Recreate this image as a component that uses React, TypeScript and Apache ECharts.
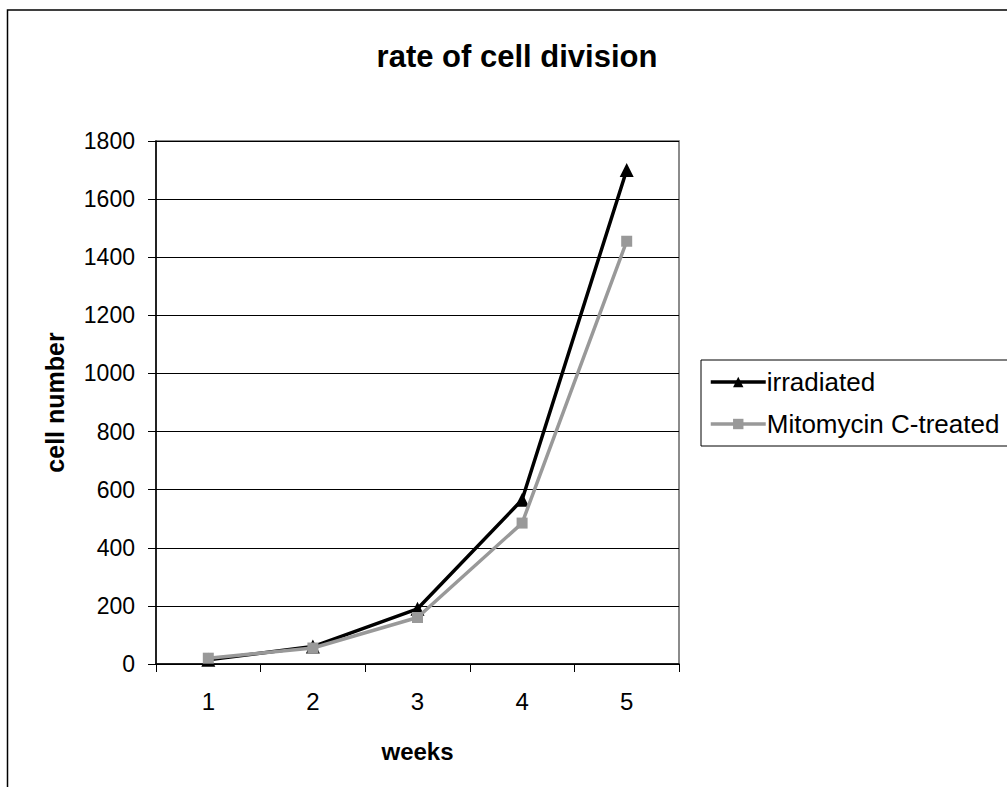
import React, { useEffect, useRef } from "react";
import * as echarts from "echarts";

const weeks = ["1", "2", "3", "4", "5"];
const irradiated = [15, 60, 190, 565, 1700];
const mitomycin = [20, 55, 160, 485, 1455];
const yTicks = { min: 0, max: 1800, interval: 200 };

const FONT = "'Liberation Sans', Arial, sans-serif";

export default function App() {
  const ref = useRef<HTMLDivElement>(null);
  useEffect(() => {
    if (!ref.current) return;
    const chart = echarts.init(ref.current, null, { renderer: "svg" });
    chart.setOption({
      animation: false,
      backgroundColor: "#ffffff",
      textStyle: { fontFamily: FONT },
      title: {
        text: "rate of cell division",
        left: 512,
        textAlign: "center",
        top: 36,
        textStyle: { fontFamily: FONT, fontSize: 31, fontWeight: "bold", color: "#000" },
      },
      graphic: [
        {
          type: "rect",
          shape: { x: 7.5, y: 10, width: 1100, height: 900 },
          style: { fill: "none", stroke: "#000", lineWidth: 1.5 },
          silent: true,
        },
      ],
      grid: {
        left: 156,
        right: 1007 - 679,
        top: 141,
        bottom: 787 - 664,
        show: true,
        borderColor: "#666",
        borderWidth: 1.5,
        containLabel: false,
      },
      legend: {
        orient: "vertical",
        left: 701,
        top: 360,
        itemWidth: 55,
        itemHeight: 13,
        itemGap: 16,
        padding: [9, 60, 9, 8],
        borderColor: "#000",
        borderWidth: 1,
        lineStyle: { width: 3.5 },
        textStyle: { fontFamily: FONT, fontSize: 26, color: "#000", padding: [0, 0, 0, -4] },
        data: ["irradiated", "Mitomycin C-treated"],
      },
      xAxis: {
        type: "category",
        data: weeks,
        boundaryGap: true,
        name: "weeks",
        nameLocation: "middle",
        nameGap: 75,
        nameMoveOverlap: false,
        nameTextStyle: { fontFamily: FONT, fontSize: 24, fontWeight: "bold", color: "#000" },
        axisLine: { lineStyle: { color: "#000", width: 1.5 } },
        axisTick: { show: true, length: 8, alignWithLabel: false, lineStyle: { color: "#000", width: 1 } },
        axisLabel: { fontFamily: FONT, fontSize: 24, color: "#000", margin: 25 },
        splitLine: { show: false },
      },
      yAxis: {
        type: "value",
        min: yTicks.min,
        max: yTicks.max,
        interval: yTicks.interval,
        name: "cell number",
        nameLocation: "middle",
        nameGap: 89,
        nameMoveOverlap: false,
        nameRotate: 90,
        nameTextStyle: { fontFamily: FONT, fontSize: 25, fontWeight: "bold", color: "#000" },
        axisLine: { show: true, lineStyle: { color: "#000", width: 1.5 } },
        axisTick: { show: true, length: 8, lineStyle: { color: "#000", width: 1 } },
        axisLabel: {
          fontFamily: FONT,
          fontSize: 23,
          color: "#000",
          margin: 21,
          formatter: (v: number) => String(v),
        },
        splitLine: { show: true, lineStyle: { color: "#000", width: 1 } },
      },
      series: [
        {
          name: "irradiated",
          type: "line",
          data: irradiated,
          symbol: "triangle",
          symbolSize: 14,
          itemStyle: { color: "#000" },
          lineStyle: { color: "#000", width: 3.5 },
          z: 2,
        },
        {
          name: "Mitomycin C-treated",
          type: "line",
          data: mitomycin,
          symbol: "rect",
          symbolSize: 11,
          itemStyle: { color: "#999999" },
          lineStyle: { color: "#999999", width: 3.5 },
          z: 3,
        },
      ],
    });
    return () => chart.dispose();
  }, []);
  return (
    <div
      ref={ref}
      style={{ position: "fixed", left: 0, top: 0, width: 1007, height: 787, background: "#fff" }}
    />
  );
}
